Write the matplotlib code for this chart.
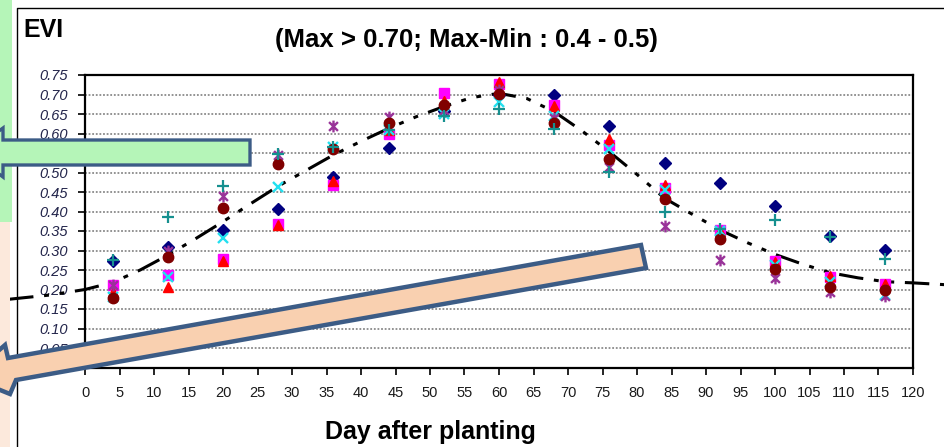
import matplotlib
matplotlib.use("Agg")
import matplotlib.pyplot as plt
from matplotlib.path import Path
from matplotlib.patches import Polygon, Rectangle
from matplotlib.lines import Line2D
from matplotlib.transforms import Affine2D
from matplotlib import font_manager

W, H = 944, 447

# ---------------- data ----------------
days = [4, 12, 20, 28, 36, 44, 52, 60, 68, 76, 84, 92, 100, 108, 116]
navy_diamond   = [0.273, 0.310, 0.353, 0.406, 0.489, 0.563, 0.657, 0.700, 0.698, 0.619, 0.525, 0.474, 0.414, 0.336, 0.301]
magenta_square = [0.211, 0.238, 0.278, 0.368, 0.467, 0.600, 0.705, 0.728, 0.674, 0.570, 0.459, 0.353, 0.273, 0.232, 0.215]
red_triangle   = [0.193, 0.207, 0.272, 0.366, 0.478, 0.610, 0.683, 0.733, 0.670, 0.587, 0.467, 0.350, 0.270, 0.234, 0.213]
cyan_x         = [0.182, 0.232, 0.333, 0.463, 0.565, 0.608, 0.650, 0.681, 0.645, 0.561, 0.455, 0.350, 0.262, 0.220, 0.185]
purple_star    = [0.211, 0.300, 0.440, 0.545, 0.618, 0.642, 0.660, 0.712, 0.640, 0.515, 0.363, 0.276, 0.230, 0.194, 0.183]
darkred_circle = [0.178, 0.283, 0.410, 0.523, 0.559, 0.626, 0.672, 0.702, 0.628, 0.535, 0.432, 0.329, 0.252, 0.206, 0.199]
teal_plus      = [0.275, 0.385, 0.465, 0.548, 0.565, 0.608, 0.645, 0.664, 0.612, 0.502, 0.398, 0.355, 0.379, 0.335, 0.278]

trend_days = [-11, -5, 0, 4, 8, 12, 16, 20, 24, 28, 32, 36, 40, 44, 48, 52, 56, 60,
              64, 68, 72, 76, 80, 84, 88, 92, 96, 100, 104, 108, 112, 116, 120, 125]
trend_evi = [0.175, 0.186, 0.200, 0.218, 0.250, 0.288, 0.330, 0.374, 0.420, 0.465, 0.505, 0.545,
             0.580, 0.613, 0.643, 0.669, 0.692, 0.703, 0.690, 0.656, 0.607, 0.553, 0.495, 0.434,
             0.393, 0.353, 0.320, 0.290, 0.265, 0.243, 0.230, 0.220, 0.217, 0.212]

x_ticks = list(range(0, 121, 5))
y_ticks = [0.00, 0.05, 0.10, 0.15, 0.20, 0.25, 0.30, 0.35, 0.40, 0.45, 0.50, 0.55, 0.60, 0.65, 0.70, 0.75]
y_ticklabels = [""] + ["%.2f" % v for v in y_ticks[1:]]

title_text = "(Max > 0.70; Max-Min : 0.4 - 0.5)"
ylabel_text = "EVI"
xlabel_text = "Day after planting"

# ---------------- fonts ----------------
avail = {f.name for f in font_manager.fontManager.ttflist}
narrow = ["Liberation Sans Narrow", "Liberation Sans"] if "Liberation Sans Narrow" in avail else ["Liberation Sans"]
bold_font = ["Liberation Sans", "DejaVu Sans"]

fig = plt.figure(figsize=(W / 100, H / 100), dpi=100)
fig.patch.set_facecolor("white")

px = Affine2D().scale(1.0 / W, -1.0 / H).translate(0, 1) + fig.transFigure

# left strips of the slide background
fig.patches.append(Rectangle((0, 0), 12, 222, transform=px, facecolor="#b5f5b8", edgecolor="none", zorder=0))
fig.patches.append(Rectangle((0, 222), 10, 225, transform=px, facecolor="#fce9dc", edgecolor="none", zorder=0))
# chart area frame
fig.add_artist(Line2D([17, 17, W + 5], [H + 5, 8, 8], transform=px, color="black", lw=1.0, zorder=1))

left, right, top, bottom = 85, 913, 75, 367.5
ax = fig.add_axes([left / W, (H - bottom) / H, (right - left) / W, (bottom - top) / H])
ax.set_xlim(0, 120)
ax.set_ylim(0, 0.75)

for s in ax.spines.values():
    s.set_linewidth(1.6)
    s.set_color("black")

ax.set_yticks(y_ticks)
ax.set_yticklabels(y_ticklabels)
ax.set_xticks(x_ticks)
ax.set_xticklabels([str(v) for v in x_ticks])
ax.tick_params(axis="y", direction="out", length=5, width=1.2, pad=7, labelsize=10.5, labelcolor="#22244a")
ax.tick_params(axis="x", direction="out", length=5, width=1.2, pad=8, labelsize=10.5, labelcolor="#1a1a1a")
for t in ax.get_yticklabels():
    t.set_fontstyle("italic")
    t.set_family(narrow)
for t in ax.get_xticklabels():
    t.set_family(narrow)

for v in y_ticks[1:-1]:
    ax.axhline(v, color="#8a8a8a", lw=1.3, ls=(0, (1, 1)), zorder=1)

# trendline
ax.plot(trend_days, trend_evi, color="black", lw=2.2, ls=(0, (8, 3.5, 1.6, 3.5, 1.6, 3.5)),
        clip_on=False, zorder=2, dash_capstyle="butt")

star = Path([(0, -1), (0, 1), (-0.75, -0.75), (0.75, 0.75), (-0.75, 0.75), (0.75, -0.75)],
            [Path.MOVETO, Path.LINETO, Path.MOVETO, Path.LINETO, Path.MOVETO, Path.LINETO])

ax.plot(days, navy_diamond, ls="none", marker="D", ms=6.5, color="#000080", mec="#000080", zorder=3)
ax.plot(days, magenta_square, ls="none", marker="s", ms=7, color="#ff00ff", mec="#ff00ff", zorder=3)
ax.plot(days, red_triangle, ls="none", marker="^", ms=7.5, color="#ff0000", mec="#ff0000", zorder=3)
ax.plot(days, cyan_x, ls="none", marker="x", ms=7.5, mew=1.7, color="#22e0f0", zorder=3)
ax.plot(days, purple_star, ls="none", marker=star, ms=8.5, mew=1.7, color="#993399", zorder=3)
ax.plot(days, darkred_circle, ls="none", marker="o", ms=7.5, color="#800000", mec="#800000", zorder=3)
ax.plot(days, teal_plus, ls="none", marker="+", ms=9, mew=1.6, color="#16908f", zorder=3)

# texts
fig.text(23 / W, 1 - 30 / H, ylabel_text, fontsize=18, fontweight="bold", family=bold_font,
         ha="left", va="center")
fig.text(466 / W, 1 - 40 / H, title_text, fontsize=18.5, fontweight="bold", family=bold_font,
         ha="center", va="center")
fig.text(430 / W, 1 - 432 / H, xlabel_text, fontsize=18, fontweight="bold", family=bold_font,
         ha="center", va="center")

# overlaid slide shapes
border = "#3c5c86"
green_arrow = [(250, 140), (250, 165), (3, 165), (3, 177), (-30, 152), (3, 128), (3, 140)]
fig.patches.append(Polygon(green_arrow, closed=True, transform=px, facecolor="#b5f5b8",
                           edgecolor=border, lw=2.4, joinstyle="miter", zorder=10))
peach_arrow = [(641, 245), (646, 268), (16, 380), (10, 394), (-32, 377), (5, 345), (8, 358)]
fig.patches.append(Polygon(peach_arrow, closed=True, transform=px, facecolor="#f9d0b0",
                           edgecolor=border, lw=3.2, joinstyle="miter", zorder=10))

fig.savefig("out.png", dpi=100)
